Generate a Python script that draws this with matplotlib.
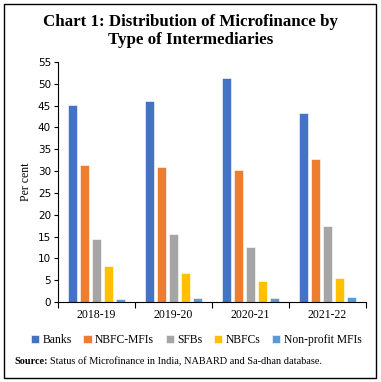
import matplotlib.pyplot as plt
from matplotlib.patches import Rectangle
import numpy as np

years = ["2018-19", "2019-20", "2020-21", "2021-22"]
banks = [45.1, 46.0, 51.3, 43.3]
nbfc_mfis = [31.4, 30.9, 30.3, 32.7]
sfbs = [14.5, 15.5, 12.6, 17.4]
nbfcs = [8.2, 6.7, 4.8, 5.5]
non_profit = [0.8, 0.9, 0.9, 1.1]

series = [("Banks", banks, "#4472C4"),
          ("NBFC-MFIs", nbfc_mfis, "#ED7D31"),
          ("SFBs", sfbs, "#A5A5A5"),
          ("NBFCs", nbfcs, "#FFC000"),
          ("Non-profit MFIs", non_profit, "#5B9BD5")]

serif = ["Liberation Serif", "DejaVu Serif"]
sans = ["DejaVu Sans"]

fig = plt.figure(figsize=(3.81, 3.82), dpi=100)
ax = fig.add_axes([58 / 381, 1 - 302 / 382, 308 / 381, 240 / 382])

x = np.arange(len(years))
pitch = 0.156
width = 0.125
for i, (name, vals, col) in enumerate(series):
    ax.bar(x + (i - 2) * pitch, vals, width, color=col, label=name,
           edgecolor="white", linewidth=0.4)

ax.set_xlim(-0.5, 3.5)
ax.set_ylim(0, 55)
ax.set_yticks(range(0, 56, 5))
ax.set_xticks(x)
ax.set_xticklabels(years, fontfamily=serif, fontsize=8.5)
ax.set_xticks(np.arange(-0.5, 3.6, 1), minor=True)
ax.tick_params(axis="x", which="major", length=0, pad=5)
ax.tick_params(axis="x", which="minor", length=4, width=0.8, direction="out")
ax.tick_params(axis="y", labelsize=7.5, length=3, width=0.8, pad=2)
for lab in ax.get_yticklabels():
    lab.set_fontfamily(sans)
ax.spines["top"].set_visible(False)
ax.spines["right"].set_visible(False)
ax.spines["left"].set_linewidth(0.8)
ax.spines["bottom"].set_linewidth(0.8)
ax.set_ylabel("Per cent", fontfamily=serif, fontsize=8.5, labelpad=4)

fig.text(0.5, 1 - 31 / 382, "Chart 1: Distribution of Microfinance by\nType of Intermediaries",
         ha="center", va="center", fontfamily=serif, fontweight="bold",
         fontsize=12.2, linespacing=1.15)

handles, labels = ax.get_legend_handles_labels()
fig.legend(handles, labels, loc="center", bbox_to_anchor=(0.515, 1 - 340 / 382),
           ncol=5, frameon=False, prop={"family": serif, "size": 8.4},
           handlelength=0.7, handleheight=0.7, handletextpad=0.3,
           columnspacing=1.0)

# source note: bold label then plain text
src = fig.text(14 / 381, 1 - 362 / 382, "Source:", fontsize=7.4,
               fontfamily=serif, fontweight="bold", va="center")
fig.canvas.draw()
w = src.get_window_extent().width
fig.text(14 / 381 + (w + 2) / 381, 1 - 362 / 382,
         "Status of Microfinance in India, NABARD and Sa-dhan database.",
         fontsize=7.4, fontfamily=serif, va="center")

fig.add_artist(Rectangle((4 / 381, 4 / 382), 372 / 381, 374 / 382,
                         transform=fig.transFigure, fill=False,
                         edgecolor="black", linewidth=1.0))

fig.savefig("out.png", dpi=100)
